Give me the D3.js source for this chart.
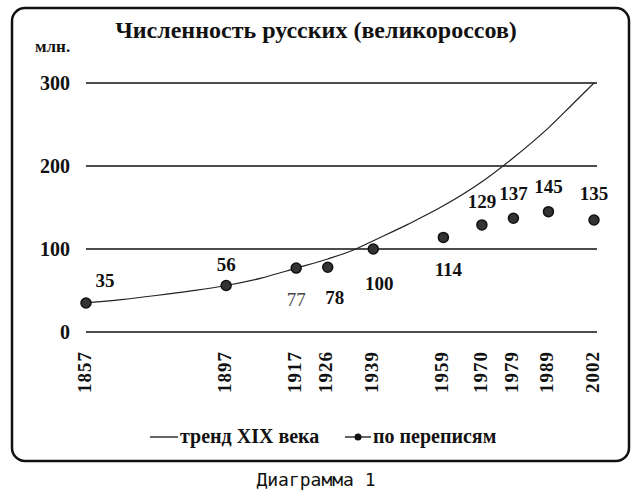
<!DOCTYPE html>
<html>
<head>
<meta charset="utf-8">
<script src="https://cdn.jsdelivr.net/npm/d3@7"></script>
<style>
  body { margin: 0; background: #fff; }
  svg text { font-family: "Liberation Serif", "Times New Roman", serif; font-weight: bold; fill: #111; }
  .caption { font-family: "DejaVu Sans Mono", monospace; font-weight: normal; }
</style>
</head>
<body>
<svg id="chart" width="642" height="490"></svg>
<script>
// census data
const years = [1857, 1897, 1917, 1926, 1939, 1959, 1970, 1979, 1989, 2002];
const census = [35, 56, 77, 78, 100, 114, 129, 137, 145, 135];
// 19th-century trend curve
const trendYears = [1857, 1867, 1877, 1887, 1897, 1907, 1917, 1926, 1934, 1939, 1949, 1959, 1970, 1979, 1989, 1996, 2002];
const trendValues = [35, 39, 44, 49.5, 56, 65, 77, 88, 100, 110, 130, 152, 181, 210, 246, 275, 300];
const yTicks = [0, 100, 200, 300];
// where each value label sits relative to its point
const labelPos = [[19, -16], [0, -15], [0, 38], [7, 37], [6, 41], [5, 39], [0, -17], [0, -18], [0, -19], [0, -20]];

const svg = d3.select('#chart');

const x = d3.scaleLinear()
    .domain([1857, 2002])
    .range([86, 594]);

const y = d3.scaleLinear()
    .domain([0, 300])
    .range([332, 83]);

// frame
svg.append('rect')
  .attr('x', 12).attr('y', 8)
  .attr('width', 617).attr('height', 453)
  .attr('rx', 13)
  .attr('fill', 'none')
  .attr('stroke', '#111')
  .attr('stroke-width', 2.5);

svg.append('text')
  .attr('x', 316).attr('y', 38)
  .attr('text-anchor', 'middle')
  .style('font-size', '24px')
  .text('Численность русских (великороссов)');

svg.append('text')
  .attr('x', 35).attr('y', 52)
  .style('font-size', '17px')
  .text('млн.');

// gridlines + y labels
const grid = svg.append('g');
grid.selectAll('line')
  .data(yTicks)
  .join('line')
    .attr('x1', x(1857)).attr('x2', x(2002) + 3)
    .attr('y1', d => y(d)).attr('y2', d => y(d))
    .attr('stroke', '#111')
    .attr('stroke-width', 1.3);

grid.selectAll('text')
  .data(yTicks)
  .join('text')
    .attr('x', 70)
    .attr('y', d => y(d))
    .attr('dy', '0.35em')
    .attr('text-anchor', 'end')
    .style('font-size', '20px')
    .text(d => d);

// rotated year labels
svg.append('g').selectAll('text')
  .data(years)
  .join('text')
    .attr('transform', d => `translate(${x(d) - 2},351) rotate(-90)`)
    .attr('dy', '0.35em')
    .attr('text-anchor', 'end')
    .style('font-size', '19px')
    .style('letter-spacing', '1px')
    .text(d => d);

// trend
const line = d3.line()
    .x(d => x(d[0]))
    .y(d => y(d[1]))
    .curve(d3.curveMonotoneX);

svg.append('path')
  .datum(d3.zip(trendYears, trendValues))
  .attr('d', line)
  .attr('fill', 'none')
  .attr('stroke', '#222')
  .attr('stroke-width', 1.2);

// census points
const pts = d3.zip(years, census);
svg.append('g').selectAll('circle')
  .data(pts)
  .join('circle')
    .attr('cx', d => x(d[0]))
    .attr('cy', d => y(d[1]))
    .attr('r', 5)
    .attr('fill', '#333')
    .attr('stroke', '#111')
    .attr('stroke-width', 1.5);

svg.append('g').selectAll('text')
  .data(pts)
  .join('text')
    .attr('x', (d, i) => x(d[0]) + labelPos[i][0])
    .attr('y', (d, i) => y(d[1]) + labelPos[i][1])
    .attr('text-anchor', 'middle')
    .style('font-size', '19px')
    .style('font-weight', (d, i) => i === 2 ? 'normal' : 'bold')
    .style('fill', (d, i) => i === 2 ? '#444' : '#111')
    .text(d => d[1]);

// legend
const legend = svg.append('g').attr('transform', 'translate(0,437)');
legend.append('line')
  .attr('x1', 150).attr('x2', 178)
  .attr('stroke', '#111').attr('stroke-width', 1.3);
legend.append('text')
  .attr('x', 180).attr('dy', '0.32em')
  .style('font-size', '20px')
  .text('тренд XIX века');
legend.append('line')
  .attr('x1', 345).attr('x2', 371)
  .attr('stroke', '#111').attr('stroke-width', 1.3);
legend.append('circle')
  .attr('cx', 358).attr('r', 3.5)
  .attr('fill', '#111');
legend.append('text')
  .attr('x', 373).attr('dy', '0.32em')
  .style('font-size', '20px')
  .text('по переписям');

svg.append('text')
  .attr('class', 'caption')
  .attr('x', 316).attr('y', 486)
  .attr('text-anchor', 'middle')
  .style('font-size', '18px')
  .text('Диаграмма 1');
</script>
</body>
</html>
